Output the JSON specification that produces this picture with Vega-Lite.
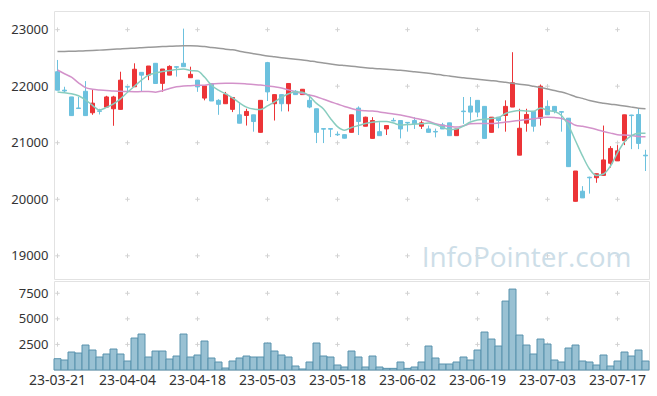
{
  "$schema": "https://vega.github.io/schema/vega-lite/v6.json",
  "padding": {"left": 5, "top": 10, "right": 9, "bottom": 5},
  "autosize": {"type": "pad"},
  "background": "white",
  "config": {
    "view": {"stroke": "#e2e2e2"},
    "font": "Noto Sans",
    "axis": {"grid": false, "ticks": false, "domain": false, "labelFontSize": 13, "labelColor": "#333333", "title": null, "labelFont": "Noto Sans"},
    "axisY": {"minExtent": 48, "maxExtent": 48, "labelPadding": 6},
    "axisX": {"labelPadding": 3, "labelAngle": 0, "labelFontSize": 14}
  },
  "datasets": {
    "px": [
      {"d":"23-03-21","o":22256,"h":22464,"l":21929,"c":21929,"v":1104,"m5":21898,"m20":22286,"m60":22612},
      {"d":"23-03-22","o":21930,"h":21990,"l":21880,"c":21915,"v":977,"m5":21884,"m20":22220,"m60":22615},
      {"d":"23-03-23","o":21810,"h":21810,"l":21480,"c":21480,"v":1758,"m5":21866,"m20":22160,"m60":22618},
      {"d":"23-03-24","o":21615,"h":21810,"l":21600,"c":21605,"v":1660,"m5":21830,"m20":22060,"m60":22622},
      {"d":"23-03-27","o":21910,"h":22090,"l":21480,"c":21480,"v":2441,"m5":21759,"m20":21975,"m60":22626},
      {"d":"23-03-28","o":21530,"h":21946,"l":21494,"c":21700,"v":1953,"m5":21661,"m20":21945,"m60":22631},
      {"d":"23-03-29","o":21565,"h":21600,"l":21500,"c":21555,"v":1270,"m5":21580,"m20":21932,"m60":22638},
      {"d":"23-03-30","o":21630,"h":21830,"l":21620,"c":21810,"v":1563,"m5":21625,"m20":21925,"m60":22645},
      {"d":"23-03-31","o":21600,"h":21830,"l":21300,"c":21810,"v":2051,"m5":21688,"m20":21915,"m60":22652},
      {"d":"23-04-03","o":21590,"h":22256,"l":21589,"c":22107,"v":1563,"m5":21777,"m20":21910,"m60":22660},
      {"d":"23-04-04","o":21990,"h":22000,"l":21900,"c":21985,"v":879,"m5":21893,"m20":21905,"m60":22667},
      {"d":"23-04-05","o":21990,"h":22405,"l":21990,"c":22300,"v":3125,"m5":22000,"m20":21902,"m60":22673},
      {"d":"23-04-06","o":22245,"h":22245,"l":21900,"c":22195,"v":3516,"m5":22107,"m20":21905,"m60":22680},
      {"d":"23-04-07","o":22196,"h":22357,"l":22107,"c":22357,"v":1270,"m5":22196,"m20":21905,"m60":22688},
      {"d":"23-04-10","o":22405,"h":22405,"l":22048,"c":22048,"v":1855,"m5":22232,"m20":21895,"m60":22695},
      {"d":"23-04-11","o":22050,"h":22304,"l":21900,"c":22304,"v":1855,"m5":22259,"m20":21920,"m60":22700},
      {"d":"23-04-12","o":22196,"h":22370,"l":22196,"c":22350,"v":1074,"m5":22277,"m20":21960,"m60":22705},
      {"d":"23-04-13","o":22345,"h":22350,"l":22170,"c":22335,"v":1367,"m5":22295,"m20":21990,"m60":22710},
      {"d":"23-04-14","o":22405,"h":23018,"l":22345,"c":22345,"v":3516,"m5":22304,"m20":22005,"m60":22714},
      {"d":"23-04-17","o":22150,"h":22345,"l":22150,"c":22210,"v":1270,"m5":22277,"m20":22010,"m60":22715},
      {"d":"23-04-18","o":22107,"h":22107,"l":21900,"c":21988,"v":1465,"m5":22268,"m20":22015,"m60":22712},
      {"d":"23-04-19","o":21790,"h":22006,"l":21750,"c":22006,"v":2832,"m5":22161,"m20":22018,"m60":22700},
      {"d":"23-04-20","o":22048,"h":22048,"l":21738,"c":21738,"v":1172,"m5":22018,"m20":22040,"m60":22685},
      {"d":"23-04-21","o":21750,"h":21770,"l":21494,"c":21680,"v":781,"m5":21929,"m20":22048,"m60":22670},
      {"d":"23-04-24","o":21690,"h":21899,"l":21690,"c":21857,"v":195,"m5":21866,"m20":22050,"m60":22655},
      {"d":"23-04-25","o":21590,"h":21800,"l":21542,"c":21800,"v":879,"m5":21795,"m20":22050,"m60":22643},
      {"d":"23-04-26","o":21494,"h":21720,"l":21345,"c":21345,"v":1172,"m5":21705,"m20":22048,"m60":22620},
      {"d":"23-04-27","o":21482,"h":21601,"l":21304,"c":21554,"v":1367,"m5":21630,"m20":22040,"m60":22595},
      {"d":"23-04-28","o":21494,"h":21494,"l":21196,"c":21375,"v":1270,"m5":21595,"m20":22030,"m60":22575},
      {"d":"23-05-02","o":21184,"h":21750,"l":21184,"c":21750,"v":1270,"m5":21586,"m20":22020,"m60":22555},
      {"d":"23-05-03","o":22417,"h":22430,"l":21738,"c":21899,"v":2637,"m5":21652,"m20":22005,"m60":22535},
      {"d":"23-05-04","o":21690,"h":21851,"l":21393,"c":21851,"v":1855,"m5":21723,"m20":21990,"m60":22520},
      {"d":"23-05-08","o":21851,"h":21851,"l":21554,"c":21690,"v":1465,"m5":21804,"m20":21970,"m60":22505},
      {"d":"23-05-09","o":21690,"h":22048,"l":21554,"c":22048,"v":1270,"m5":21866,"m20":21935,"m60":22490},
      {"d":"23-05-10","o":21911,"h":21930,"l":21851,"c":21851,"v":391,"m5":21902,"m20":21900,"m60":22477},
      {"d":"23-05-11","o":21851,"h":21946,"l":21851,"c":21946,"v":98,"m5":21893,"m20":21870,"m60":22465},
      {"d":"23-05-12","o":21750,"h":21851,"l":21610,"c":21631,"v":781,"m5":21821,"m20":21845,"m60":22447},
      {"d":"23-05-15","o":21601,"h":21601,"l":20994,"c":21184,"v":2637,"m5":21696,"m20":21815,"m60":22430},
      {"d":"23-05-16","o":21250,"h":21250,"l":20994,"c":21240,"v":1367,"m5":21598,"m20":21770,"m60":22410},
      {"d":"23-05-17","o":21250,"h":21250,"l":21100,"c":21240,"v":1270,"m5":21429,"m20":21725,"m60":22392},
      {"d":"23-05-18","o":21150,"h":21200,"l":21120,"c":21140,"v":488,"m5":21286,"m20":21685,"m60":22377},
      {"d":"23-05-19","o":21143,"h":21143,"l":21077,"c":21080,"v":293,"m5":21223,"m20":21640,"m60":22365},
      {"d":"23-05-22","o":21184,"h":21494,"l":21184,"c":21494,"v":1855,"m5":21268,"m20":21605,"m60":22353},
      {"d":"23-05-23","o":21613,"h":21643,"l":21137,"c":21375,"v":1270,"m5":21304,"m20":21575,"m60":22340},
      {"d":"23-05-24","o":21292,"h":21460,"l":21292,"c":21452,"v":293,"m5":21339,"m20":21565,"m60":22328},
      {"d":"23-05-25","o":21077,"h":21452,"l":21077,"c":21393,"v":1367,"m5":21363,"m20":21562,"m60":22316},
      {"d":"23-05-26","o":21196,"h":21363,"l":21125,"c":21125,"v":293,"m5":21375,"m20":21545,"m60":22307},
      {"d":"23-05-30","o":21244,"h":21304,"l":21137,"c":21304,"v":160,"m5":21375,"m20":21525,"m60":22298},
      {"d":"23-05-31","o":21395,"h":21440,"l":21380,"c":21385,"v":160,"m5":21348,"m20":21510,"m60":22290},
      {"d":"23-06-01","o":21393,"h":21393,"l":21077,"c":21244,"v":781,"m5":21313,"m20":21490,"m60":22280},
      {"d":"23-06-02","o":21360,"h":21363,"l":21196,"c":21350,"v":160,"m5":21321,"m20":21465,"m60":22270},
      {"d":"23-06-05","o":21393,"h":21452,"l":21244,"c":21334,"v":293,"m5":21330,"m20":21435,"m60":22256},
      {"d":"23-06-07","o":21292,"h":21393,"l":21244,"c":21352,"v":781,"m5":21334,"m20":21410,"m60":22243},
      {"d":"23-06-08","o":21244,"h":21304,"l":21184,"c":21184,"v":2344,"m5":21348,"m20":21380,"m60":22230},
      {"d":"23-06-09","o":21200,"h":21250,"l":21095,"c":21190,"v":1172,"m5":21321,"m20":21335,"m60":22213},
      {"d":"23-06-12","o":21316,"h":21352,"l":21244,"c":21244,"v":586,"m5":21273,"m20":21310,"m60":22195},
      {"d":"23-06-13","o":21352,"h":21352,"l":21125,"c":21125,"v":586,"m5":21232,"m20":21290,"m60":22180},
      {"d":"23-06-14","o":21125,"h":21244,"l":21125,"c":21244,"v":781,"m5":21241,"m20":21277,"m60":22163},
      {"d":"23-06-15","o":21560,"h":21809,"l":21334,"c":21550,"v":1270,"m5":21295,"m20":21300,"m60":22150},
      {"d":"23-06-16","o":21649,"h":21809,"l":21393,"c":21542,"v":977,"m5":21366,"m20":21334,"m60":22135},
      {"d":"23-06-19","o":21750,"h":21750,"l":21452,"c":21542,"v":1953,"m5":21402,"m20":21340,"m60":22122},
      {"d":"23-06-20","o":21643,"h":21643,"l":21077,"c":21077,"v":3711,"m5":21416,"m20":21340,"m60":22110},
      {"d":"23-06-21","o":21184,"h":21452,"l":21184,"c":21452,"v":3027,"m5":21429,"m20":21339,"m60":22098},
      {"d":"23-06-22","o":21452,"h":21452,"l":21256,"c":21393,"v":2344,"m5":21446,"m20":21350,"m60":22085},
      {"d":"23-06-23","o":21482,"h":21750,"l":21196,"c":21643,"v":6738,"m5":21518,"m20":21365,"m60":22068},
      {"d":"23-06-26","o":21631,"h":22601,"l":21631,"c":22060,"v":7910,"m5":21554,"m20":21380,"m60":22052},
      {"d":"23-06-27","o":20780,"h":21601,"l":20780,"c":21256,"v":3418,"m5":21571,"m20":21395,"m60":22036},
      {"d":"23-06-28","o":21345,"h":21601,"l":21196,"c":21500,"v":2441,"m5":21562,"m20":21410,"m60":22020},
      {"d":"23-06-29","o":21554,"h":21554,"l":21196,"c":21292,"v":1563,"m5":21557,"m20":21425,"m60":21998},
      {"d":"23-06-30","o":21434,"h":22030,"l":21304,"c":22000,"v":3027,"m5":21616,"m20":21440,"m60":21975},
      {"d":"23-07-03","o":21643,"h":21750,"l":21494,"c":21494,"v":2539,"m5":21571,"m20":21452,"m60":21950},
      {"d":"23-07-04","o":21643,"h":21643,"l":21520,"c":21554,"v":977,"m5":21554,"m20":21445,"m60":21922},
      {"d":"23-07-05","o":21550,"h":21554,"l":21196,"c":21540,"v":781,"m5":21482,"m20":21429,"m60":21898},
      {"d":"23-07-06","o":21434,"h":21434,"l":20577,"c":20577,"v":2148,"m5":21304,"m20":21380,"m60":21860},
      {"d":"23-07-07","o":19964,"h":20500,"l":19964,"c":20500,"v":2441,"m5":21036,"m20":21310,"m60":21815},
      {"d":"23-07-10","o":20143,"h":20232,"l":20024,"c":20024,"v":879,"m5":20768,"m20":21290,"m60":21785},
      {"d":"23-07-11","o":20390,"h":20400,"l":20100,"c":20380,"v":781,"m5":20536,"m20":21265,"m60":21748},
      {"d":"23-07-12","o":20381,"h":20452,"l":20292,"c":20452,"v":488,"m5":20420,"m20":21235,"m60":21720},
      {"d":"23-07-13","o":20423,"h":21304,"l":20423,"c":20696,"v":1465,"m5":20446,"m20":21200,"m60":21700},
      {"d":"23-07-14","o":20637,"h":20940,"l":20560,"c":20899,"v":391,"m5":20589,"m20":21170,"m60":21682},
      {"d":"23-07-17","o":20679,"h":20958,"l":20679,"c":20857,"v":879,"m5":20821,"m20":21143,"m60":21668},
      {"d":"23-07-18","o":21036,"h":21494,"l":20958,"c":21494,"v":1758,"m5":21018,"m20":21135,"m60":21650},
      {"d":"23-07-19","o":21490,"h":21494,"l":20887,"c":21480,"v":1367,"m5":21125,"m20":21130,"m60":21630},
      {"d":"23-07-20","o":21500,"h":21613,"l":20887,"c":20988,"v":1953,"m5":21166,"m20":21110,"m60":21612},
      {"d":"23-07-21","o":20780,"h":20875,"l":20500,"c":20768,"v":879,"m5":21170,"m20":21105,"m60":21600}
    ],
    "gridTop": [
      {"d":"23-03-21","p":19000},{"d":"23-03-21","p":20000},{"d":"23-03-21","p":21000},{"d":"23-03-21","p":22000},{"d":"23-03-21","p":23000},
      {"d":"23-04-04","p":19000},{"d":"23-04-04","p":20000},{"d":"23-04-04","p":21000},{"d":"23-04-04","p":22000},{"d":"23-04-04","p":23000},
      {"d":"23-04-18","p":19000},{"d":"23-04-18","p":20000},{"d":"23-04-18","p":21000},{"d":"23-04-18","p":22000},{"d":"23-04-18","p":23000},
      {"d":"23-05-03","p":19000},{"d":"23-05-03","p":20000},{"d":"23-05-03","p":21000},{"d":"23-05-03","p":22000},{"d":"23-05-03","p":23000},
      {"d":"23-05-18","p":19000},{"d":"23-05-18","p":20000},{"d":"23-05-18","p":21000},{"d":"23-05-18","p":22000},{"d":"23-05-18","p":23000},
      {"d":"23-06-02","p":19000},{"d":"23-06-02","p":20000},{"d":"23-06-02","p":21000},{"d":"23-06-02","p":22000},{"d":"23-06-02","p":23000},
      {"d":"23-06-19","p":19000},{"d":"23-06-19","p":20000},{"d":"23-06-19","p":21000},{"d":"23-06-19","p":22000},{"d":"23-06-19","p":23000},
      {"d":"23-07-03","p":19000},{"d":"23-07-03","p":20000},{"d":"23-07-03","p":21000},{"d":"23-07-03","p":22000},{"d":"23-07-03","p":23000},
      {"d":"23-07-17","p":19000},{"d":"23-07-17","p":20000},{"d":"23-07-17","p":21000},{"d":"23-07-17","p":22000},{"d":"23-07-17","p":23000}
    ],
    "gridBottom": [
      {"d":"23-03-21","p":2500},{"d":"23-03-21","p":5000},{"d":"23-03-21","p":7500},
      {"d":"23-04-04","p":2500},{"d":"23-04-04","p":5000},{"d":"23-04-04","p":7500},
      {"d":"23-04-18","p":2500},{"d":"23-04-18","p":5000},{"d":"23-04-18","p":7500},
      {"d":"23-05-03","p":2500},{"d":"23-05-03","p":5000},{"d":"23-05-03","p":7500},
      {"d":"23-05-18","p":2500},{"d":"23-05-18","p":5000},{"d":"23-05-18","p":7500},
      {"d":"23-06-02","p":2500},{"d":"23-06-02","p":5000},{"d":"23-06-02","p":7500},
      {"d":"23-06-19","p":2500},{"d":"23-06-19","p":5000},{"d":"23-06-19","p":7500},
      {"d":"23-07-03","p":2500},{"d":"23-07-03","p":5000},{"d":"23-07-03","p":7500},
      {"d":"23-07-17","p":2500},{"d":"23-07-17","p":5000},{"d":"23-07-17","p":7500}
    ],
    "mark": [{"t": "InfoPointer.com", "d": "23-07-19", "p": 18805}]
  },
  "spacing": 0,
  "vconcat": [
    {
      "width": 595,
      "height": 268,
      "encoding": {
        "x": {"field": "d", "type": "ordinal", "scale": {"paddingInner": 0, "paddingOuter": 0}, "axis": null}
      },
      "layer": [
        {
          "data": {"name": "gridTop"},
          "mark": {"type": "point", "shape": "M-1,0L1,0M0,-1L0,1", "filled": false, "size": 20, "stroke": "#d2d2d2", "strokeWidth": 1, "opacity": 1},
          "encoding": {
            "y": {"field": "p", "type": "quantitative", "scale": {"domain": [18590, 23330], "zero": false, "nice": false}, "axis": {"values": [19000, 20000, 21000, 22000, 23000], "format": "d"}}
          }
        },
        {
          "data": {"name": "mark"},
          "mark": {"type": "text", "align": "right", "baseline": "alphabetic", "fontSize": 28, "font": "Open Sans", "color": "#cddee8"},
          "encoding": {
            "y": {"field": "p", "type": "quantitative"},
            "text": {"field": "t"}
          }
        },
        {
          "data": {"name": "px"},
          "mark": {"type": "rule", "strokeWidth": 1},
          "encoding": {
            "y": {"field": "l", "type": "quantitative"},
            "y2": {"field": "h"},
            "color": {"condition": {"test": "datum.c > datum.o", "value": "#ec3437"}, "value": "#6cc1de"}
          }
        },
        {
          "data": {"name": "px"},
          "mark": {"type": "bar", "width": 4, "strokeWidth": 1},
          "encoding": {
            "y": {"field": "o", "type": "quantitative"},
            "y2": {"field": "c"},
            "fill": {"condition": {"test": "datum.c > datum.o", "value": "#ec3437"}, "value": "#6cc1de"},
            "stroke": {"condition": {"test": "datum.c > datum.o", "value": "#ec3437"}, "value": "#6cc1de"}
          }
        },
        {
          "data": {"name": "px"},
          "mark": {"type": "line", "interpolate": "monotone", "strokeWidth": 1.5, "color": "#9a9a9a"},
          "encoding": {"y": {"field": "m60", "type": "quantitative"}}
        },
        {
          "data": {"name": "px"},
          "mark": {"type": "line", "interpolate": "monotone", "strokeWidth": 1.5, "color": "#d392ca"},
          "encoding": {"y": {"field": "m20", "type": "quantitative"}}
        },
        {
          "data": {"name": "px"},
          "mark": {"type": "line", "interpolate": "monotone", "strokeWidth": 1.5, "color": "#89cdbf"},
          "encoding": {"y": {"field": "m5", "type": "quantitative"}}
        }
      ]
    },
    {
      "width": 595,
      "height": 89,
      "encoding": {
        "x": {"field": "d", "type": "ordinal", "scale": {"paddingInner": 0, "paddingOuter": 0},
              "axis": {"values": ["23-03-21","23-04-04","23-04-18","23-05-03","23-05-18","23-06-02","23-06-19","23-07-03","23-07-17"]}}
      },
      "layer": [
        {
          "data": {"name": "gridBottom"},
          "mark": {"type": "point", "shape": "M-1,0L1,0M0,-1L0,1", "filled": false, "size": 20, "stroke": "#d2d2d2", "strokeWidth": 1, "opacity": 1},
          "encoding": {
            "y": {"field": "p", "type": "quantitative", "scale": {"domain": [0, 8700], "nice": false}, "axis": {"values": [2500, 5000, 7500], "format": "d"}}
          }
        },
        {
          "data": {"name": "px"},
          "mark": {"type": "bar", "fill": "#99c1d3", "stroke": "#5892ad", "strokeWidth": 1},
          "encoding": {"y": {"field": "v", "type": "quantitative"}}
        }
      ]
    }
  ]
}
